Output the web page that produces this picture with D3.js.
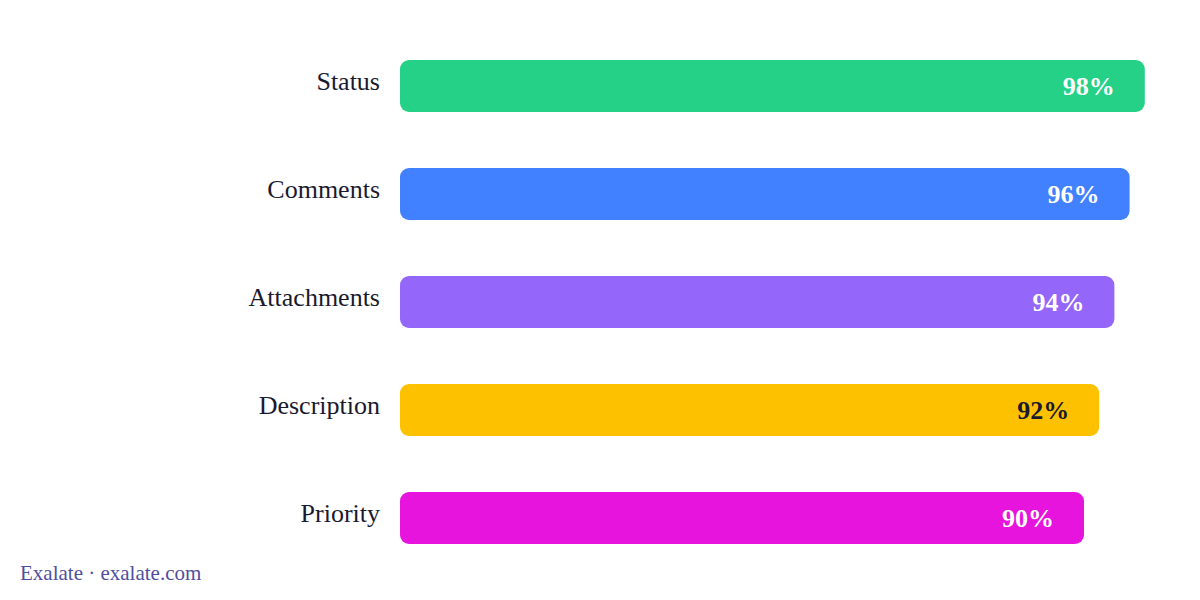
<!DOCTYPE html>
<html>
<head>
<meta charset="utf-8">
<script src="https://cdn.jsdelivr.net/npm/d3@7"></script>
<style>
  body { margin: 0; background: #fff; }
</style>
</head>
<body>
<div id="chart"></div>
<script>
var fields = ["Status", "Comments", "Attachments", "Description", "Priority"];
var rates = [98, 96, 94, 92, 90];
var colors = ["#25d087", "#4181ff", "#9466f9", "#fdc100", "#e614dc"];
var valueColors = ["#ffffff", "#ffffff", "#ffffff", "#1a1a2e", "#ffffff"];

var width = 1200, height = 600;
var svg = d3.select("#chart").append("svg")
  .attr("width", width)
  .attr("height", height);

var x = d3.scaleLinear().domain([0, 100]).range([400, 1160]);
var y = d3.scaleBand().domain(fields).range([32, 572])
  .paddingInner(0.52).paddingOuter(0.26);

var rows = svg.selectAll("g.row")
  .data(fields)
  .enter().append("g")
  .attr("class", "row");

rows.append("rect")
  .attr("x", x(0))
  .attr("y", function(d) { return y(d); })
  .attr("width", function(d, i) { return x(rates[i]) - x(0); })
  .attr("height", y.bandwidth())
  .attr("rx", 9)
  .attr("fill", function(d, i) { return colors[i]; });

rows.append("text")
  .attr("x", x(0) - 20)
  .attr("y", function(d) { return y(d) + y.bandwidth() / 2 + 4; })
  .attr("text-anchor", "end")
  .attr("font-family", "Liberation Serif, Times New Roman, serif")
  .attr("font-size", 26)
  .attr("fill", "#1a1a2e")
  .text(function(d) { return d; });

rows.append("text")
  .attr("x", function(d, i) { return x(rates[i]) - 30; })
  .attr("y", function(d) { return y(d) + y.bandwidth() / 2 + 9; })
  .attr("text-anchor", "end")
  .attr("font-family", "Liberation Serif, Times New Roman, serif")
  .attr("font-weight", "bold")
  .attr("font-size", 26)
  .attr("fill", function(d, i) { return valueColors[i]; })
  .text(function(d, i) { return rates[i] + "%"; });

svg.append("text")
  .attr("x", 20)
  .attr("y", 580)
  .attr("font-family", "Liberation Serif, Times New Roman, serif")
  .attr("font-size", 21)
  .attr("fill", "#4f4f9e")
  .text("Exalate \u00b7 exalate.com");
</script>
</body>
</html>
